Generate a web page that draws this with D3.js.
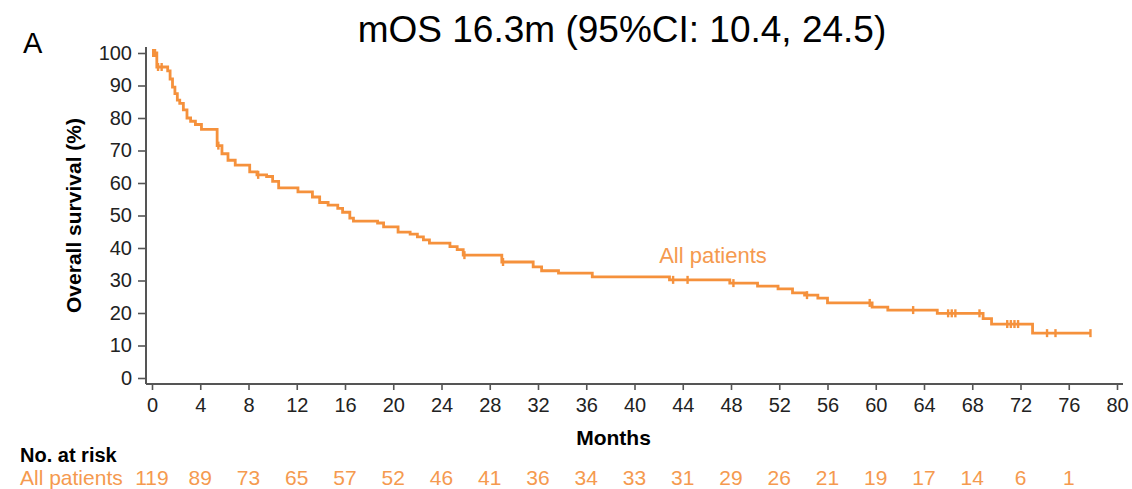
<!DOCTYPE html>
<html>
<head>
<meta charset="utf-8">
<script src="https://cdn.jsdelivr.net/npm/d3@7"></script>
<style>
  body { margin: 0; background: #fff; }
  svg { display: block; font-family: "Liberation Sans", Arial, sans-serif; }
</style>
</head>
<body>
<svg></svg>
<script>
var w = 1132;
var h = 489;

// KM steps: month of each drop and survival (%) after it
var kmMonths = [0, 0.4, 1.3, 1.5, 1.7, 1.9, 2.1, 2.3, 2.6, 2.9, 3.2, 3.6, 4.1, 5.4, 5.8, 6.3, 6.9, 8.1, 8.7,
    9.5, 10.0, 10.5, 12.1, 13.3, 13.9, 14.6, 15.4, 15.8, 16.4, 16.7, 18.7, 19.2, 20.4, 21.4, 22.0,
    22.5, 23.0, 24.7, 25.3, 25.8, 29.0, 31.6, 32.3, 33.7, 36.5, 42.9, 47.9, 50.2, 51.9, 53.1, 54.1,
    55.2, 56.0, 59.7, 61.0, 65.1, 68.9, 69.6, 73.0, 77.8];
var kmSurv = [100, 95.7, 94.5, 92, 89.5, 87.5, 85.5, 84.5, 82.5, 80, 79, 78, 76.5, 71.5, 69, 67, 65.5, 63.4, 62.5,
    62, 60.5, 58.5, 57.3, 55.7, 54, 53.2, 52.2, 51, 49.2, 48.3, 47.7, 46.5, 44.9, 44.3, 43.4,
    42.5, 41.5, 40.4, 39.5, 37.8, 35.7, 34.2, 33, 32.3, 31.1, 30.2, 29.2, 28.3, 27.4, 26.2, 25.5,
    24.6, 23.1, 21.8, 20.9, 19.9, 18.3, 16.6, 13.8, 13.8];

// censored patients (months)
var censorMonths = [0.1, 0.25, 0.5, 0.8, 5.5, 8.8, 25.9, 29.1, 43.2, 44.4, 48.2, 54.3, 59.5, 63.1,
    66.0, 66.3, 66.6, 68.6, 70.9, 71.2, 71.5, 71.8, 74.2, 74.9, 77.8];

var xTicks = [0, 4, 8, 12, 16, 20, 24, 28, 32, 36, 40, 44, 48, 52, 56, 60, 64, 68, 72, 76, 80];
var yTicks = [0, 10, 20, 30, 40, 50, 60, 70, 80, 90, 100];

var riskMonths = [0, 4, 8, 12, 16, 20, 24, 28, 32, 36, 40, 44, 48, 52, 56, 60, 64, 68, 72, 76];
var riskCounts = [119, 89, 73, 65, 57, 52, 46, 41, 36, 34, 33, 31, 29, 26, 21, 19, 17, 14, 6, 1];

var orange = "#f5913c";
var orangeText = "#f59a4f";
var axisCol = "#555";

var svg = d3.select("svg")
    .attr("width", w)
    .attr("height", h);

svg.append("rect").attr("width", w).attr("height", h).attr("fill", "#fff");

var x = d3.scaleLinear().domain([0, 80]).range([152, 1117]);
var y = d3.scaleLinear().domain([0, 100]).range([378, 53]);

var axisY0 = 384;   // x axis line sits a bit below the 0 line
var axisX0 = 146;

// title and panel letter
svg.append("text")
    .attr("x", 622).attr("y", 42)
    .attr("text-anchor", "middle")
    .style("font-size", "37px")
    .text("mOS 16.3m (95%CI: 10.4, 24.5)");

svg.append("text")
    .attr("x", 23).attr("y", 53)
    .style("font-size", "29px")
    .text("A");

// y axis
var yAxis = svg.append("g")
    .attr("transform", "translate(" + axisX0 + ",0)")
    .call(d3.axisLeft(y).tickValues(yTicks).tickSize(8).tickPadding(6));
yAxis.select(".domain").remove();
yAxis.selectAll(".tick line").attr("stroke", axisCol).attr("stroke-width", 1.6);
yAxis.selectAll(".tick text")
    .attr("fill", "#222")
    .style("font-size", "20px")
    .style("font-family", "Liberation Sans, Arial, sans-serif");
svg.append("line")
    .attr("x1", axisX0).attr("x2", axisX0)
    .attr("y1", y(100) - 6).attr("y2", axisY0)
    .attr("stroke", axisCol).attr("stroke-width", 2);

// x axis
var xAxis = svg.append("g")
    .attr("transform", "translate(0," + axisY0 + ")")
    .call(d3.axisBottom(x).tickValues(xTicks).tickSize(6).tickPadding(8));
xAxis.select(".domain").remove();
xAxis.selectAll(".tick line").attr("stroke", axisCol).attr("stroke-width", 1.6);
xAxis.selectAll(".tick text")
    .attr("fill", "#222")
    .style("font-size", "20px")
    .style("font-family", "Liberation Sans, Arial, sans-serif");
svg.append("line")
    .attr("x1", axisX0).attr("x2", x(80) + 6)
    .attr("y1", axisY0).attr("y2", axisY0)
    .attr("stroke", axisCol).attr("stroke-width", 2);

// axis titles
svg.append("text")
    .attr("transform", "translate(81," + y(50) + ") rotate(-90)")
    .attr("text-anchor", "middle")
    .style("font-size", "21px")
    .style("font-weight", "bold")
    .text("Overall survival (%)");

svg.append("text")
    .attr("x", x(40) - 21).attr("y", 445)
    .attr("text-anchor", "middle")
    .style("font-size", "21px")
    .style("font-weight", "bold")
    .text("Months");

// KM curve
var km = kmMonths.map(function(d, i) { return [d, kmSurv[i]]; });

var line = d3.line()
    .x(function(d) { return x(d[0]); })
    .y(function(d) { return y(d[1]); })
    .curve(d3.curveStepAfter);

svg.append("path")
    .datum(km)
    .attr("d", line)
    .attr("fill", "none")
    .attr("stroke", orange)
    .attr("stroke-width", 2.8);

function survAt(t) {
    var s = 100;
    for (var i = 0; i < kmMonths.length; i++) {
        if (kmMonths[i] <= t) s = kmSurv[i];
    }
    return s;
}

svg.selectAll(".censor")
    .data(censorMonths)
    .enter()
    .append("line")
    .attr("class", "censor")
    .attr("x1", function(d) { return x(d); })
    .attr("x2", function(d) { return x(d); })
    .attr("y1", function(d) { return y(survAt(d)) - 4; })
    .attr("y2", function(d) { return y(survAt(d)) + 4; })
    .attr("stroke", orange)
    .attr("stroke-width", 2.4);

// curve label
svg.append("text")
    .attr("x", 713).attr("y", 263)
    .attr("text-anchor", "middle")
    .attr("fill", orangeText)
    .style("font-size", "22px")
    .text("All patients");

// number at risk table
svg.append("text")
    .attr("x", 20).attr("y", 462)
    .style("font-size", "20px")
    .style("font-weight", "bold")
    .text("No. at risk");

svg.append("text")
    .attr("x", 20).attr("y", 485)
    .attr("fill", orangeText)
    .style("font-size", "21px")
    .text("All patients");

svg.selectAll(".risk")
    .data(riskCounts)
    .enter()
    .append("text")
    .attr("class", "risk")
    .attr("x", function(d, i) { return x(riskMonths[i]); })
    .attr("y", 485)
    .attr("text-anchor", "middle")
    .attr("fill", orangeText)
    .style("font-size", "21px")
    .text(function(d) { return d; });
</script>
</body>
</html>
